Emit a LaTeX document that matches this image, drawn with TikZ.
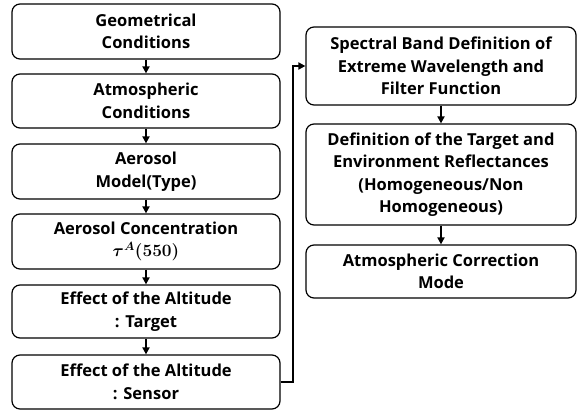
\documentclass[tikz,border=0pt]{standalone}
\usepackage{amsmath}
\usepackage[no-math]{fontspec}
\setmainfont{Open Sans}
\usetikzlibrary{positioning,arrows.meta}

\tikzset{
  stepbox/.style={draw, rounded corners=8pt, line width=1.2pt, align=center,
    font=\fontsize{16.5}{22.5}\selectfont\bfseries, inner sep=0pt},
  flow/.style={-{Triangle[length=7pt,width=7pt]}, line width=1.8pt}
}

\begin{document}
\begin{tikzpicture}[x=1pt,y=-1pt]
\useasboundingbox (0,0) rectangle (582,412);

% left column
\node[stepbox, minimum width=268pt, minimum height=55pt] (geom) at (146,31.5) {Geometrical\\Conditions};
\node[stepbox, minimum width=268pt, minimum height=54pt] (atmo) at (146,101) {Atmospheric\\Conditions};
\node[stepbox, minimum width=268pt, minimum height=55pt] (model) at (146,171.5) {Aerosol\\Model(Type)};
\node[stepbox, minimum width=268pt, minimum height=55pt] (conc) at (146,241.5) {Aerosol Concentration\\{\boldmath$\tau^{A}(550)$}};
\node[stepbox, minimum width=268pt, minimum height=53pt] (target) at (146,311.5) {Effect of the Altitude\\: Target};
\node[stepbox, minimum width=268pt, minimum height=54pt] (sensor) at (146,382) {Effect of the Altitude\\: Sensor};

% right column
\node[stepbox, minimum width=270pt, minimum height=78pt] (band) at (441,66) {Spectral Band Definition of\\Extreme Wavelength and\\Filter Function};
\node[stepbox, minimum width=270pt, minimum height=101pt] (refl) at (441,174.5) {Definition of the Target and\\Environment Reflectances\\(Homogeneous/Non\\Homogeneous)};
\node[stepbox, minimum width=270pt, minimum height=53pt] (mode) at (441,271.5) {Atmospheric Correction\\Mode};

% arrows
\draw[flow] (geom) -- (atmo);
\draw[flow] (atmo) -- (model);
\draw[flow] (model) -- (conc);
\draw[flow] (conc) -- (target);
\draw[flow] (target) -- (sensor);
\draw[flow] (sensor.east) -- ++(12,0) |- (band.west);
\draw[flow] (band) -- (refl);
\draw[flow] (refl) -- (mode);
\end{tikzpicture}
\end{document}
